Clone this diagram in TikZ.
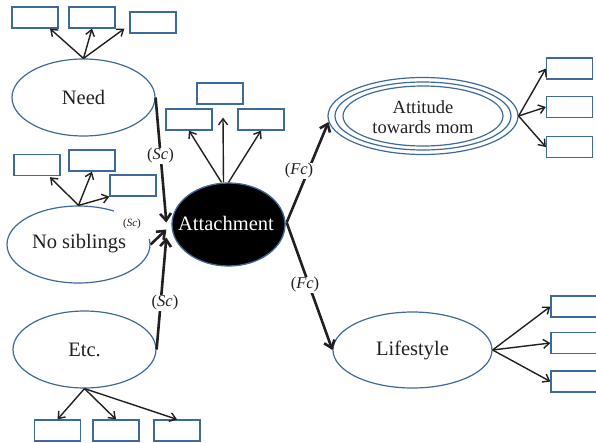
\documentclass[tikz,border=0pt]{standalone}
\usepackage{fontspec}
\setmainfont{Liberation Serif}
\usetikzlibrary{shapes.geometric,arrows.meta,calc}

\definecolor{rim}{HTML}{3D6A9C}
\definecolor{ink}{HTML}{231F20}

\begin{document}
\begin{tikzpicture}[x=1pt,y=-1pt,
  oval/.style={ellipse, draw=rim, line width=1.2pt, inner sep=0pt,
    minimum width=143pt, minimum height=77pt, text=ink,
    font=\fontsize{20.5}{22}\selectfont},
  ind/.style={rectangle, draw=rim, line width=1.3pt, inner sep=0pt,
    minimum width=46pt, minimum height=21pt},
  spoke/.style={draw=ink, line width=1.4pt, -{Straight Barb[length=6pt,width=9pt]}},
  lead/.style={draw=ink, line width=2.6pt, -{Straight Barb[length=7pt,width=11pt]}},
  lbl/.style={fill=white, inner sep=1pt, text=ink, font=\fontsize{16.5}{18}\selectfont}]

\useasboundingbox (0,0) rectangle (596,442);

% latent constructs
\node[oval] (need) at (83.5,97.5) {Need};
\node[oval] (nosib) at (78.5,244.5) {};
\node[oval] (etc) at (84.5,349.5) {Etc.};
\node[oval, minimum width=159pt, minimum height=76pt] (life) at (412.5,350) {Lifestyle};

% triple-ringed outcome
\node[oval, minimum width=190pt, minimum height=77pt] (attout) at (423,116) {};
\node[oval, minimum width=176pt, minimum height=68pt] (attmid) at (423,116) {};
\node[oval, minimum width=160pt, minimum height=60pt] (attin) at (423,116) {};
\node[text=ink, align=center, font=\fontsize{18.5}{20}\selectfont] (atttxt) at (423,117) {Attitude\\towards mom};

% central construct
\node[ellipse, fill=black, draw=rim, line width=1.3pt, inner sep=0pt,
  minimum width=113pt, minimum height=83pt] (att) at (228.5,224.5) {};
\node[text=white, font=\fontsize{20.5}{22}\selectfont] (atttext) at (226,223) {Attachment};

% indicator boxes
\node[ind] (nb1) at (35,17.5) {};
\node[ind] (nb2) at (92,17.5) {};
\node[ind] (nb3) at (153,22.5) {};
\node[ind] (sb1) at (37,165) {};
\node[ind] (sb2) at (92,160.5) {};
\node[ind] (sb3) at (133,185.5) {};
\node[ind] (eb1) at (57.5,430.5) {};
\node[ind] (eb2) at (116,430.5) {};
\node[ind] (eb3) at (177,430.5) {};
\node[ind] (atb) at (220,93.5) {};
\node[ind] (ab1) at (189,119.5) {};
\node[ind] (ab3) at (261,119.5) {};
\node[ind] (ax1) at (569.5,68.5) {};
\node[ind] (ax2) at (569.5,107) {};
\node[ind] (ax3) at (569.5,147) {};
\node[ind] (lx1) at (574,306.5) {};
\node[ind] (lx2) at (574,343) {};
\node[ind] (lx3) at (574,381.5) {};

% indicator arrows
\draw[spoke] (need.north) -- ($(nb1.south)+(15,0)$);
\draw[spoke] (need.north) -- (nb2.south);
\draw[spoke] (need.north) -- ($(nb3.south west)+(-5,-5)$);
\draw[spoke] (nosib.north) -- ($(sb1.south)+(13,1)$);
\draw[spoke] (nosib.north) -- (sb2.south);
\draw[spoke] (nosib.north) -- (sb3.south west);
\draw[spoke] (etc.south) -- (eb1.north);
\draw[spoke] (etc.south) -- (eb2.north);
\draw[spoke] (etc.south) -- (eb3.north);
\draw[spoke] ($(att.north)+(-7,0)$) -- (ab1.south);
\draw[spoke] ($(att.north)+(-5,0)$) -- ($(atb.south)+(3,13)$);
\draw[spoke] ($(att.north)+(0,0)$) -- (ab3.south);
\draw[spoke] (attout.east) -- (ax1.west);
\draw[spoke] (attout.east) -- (ax2.west);
\draw[spoke] (attout.east) -- (ax3.west);
\draw[spoke] (life.east) -- (lx1.west);
\draw[spoke] (life.east) -- (lx2.west);
\draw[spoke] (life.east) -- (lx3.west);

% small path label sitting over the No siblings rim
\node[fill=white, inner sep=0pt, minimum width=36pt, minimum height=30pt,
  text=ink, font=\fontsize{11}{12}\selectfont] (scB) at (132,224) {(\textit{Sc})};
\node[text=ink, font=\fontsize{20.5}{22}\selectfont] (nosibtxt) at (79,244) {No siblings};

% structural paths
\coordinate (tipA) at ($(att.west)+(-5,-2)$);
\coordinate (tipB) at ($(att.west)+(-5,5)$);
\coordinate (tipC) at ($(att.west)+(-5,13)$);
\coordinate (fcbase) at ($(att.east)+(1,-2)$);
\draw[lead] (need.east) -- (tipA);
\draw[lead] (nosib.east) -- (tipB);
\draw[lead] (etc.east) -- (tipC);
\draw[lead] (fcbase) -- ($(attout.west)+(1,6)$);
\draw[lead] (fcbase) -- (life.west);

% path labels
\node[lbl] (scA) at (160.5,156) {(\textit{Sc})};
\node[lbl] (scC) at (165,303) {(\textit{Sc})};
\node[lbl] (fcA) at (299,171) {(\textit{Fc})};
\node[lbl] (fcB) at (305,285) {(\textit{Fc})};
\end{tikzpicture}
\end{document}
